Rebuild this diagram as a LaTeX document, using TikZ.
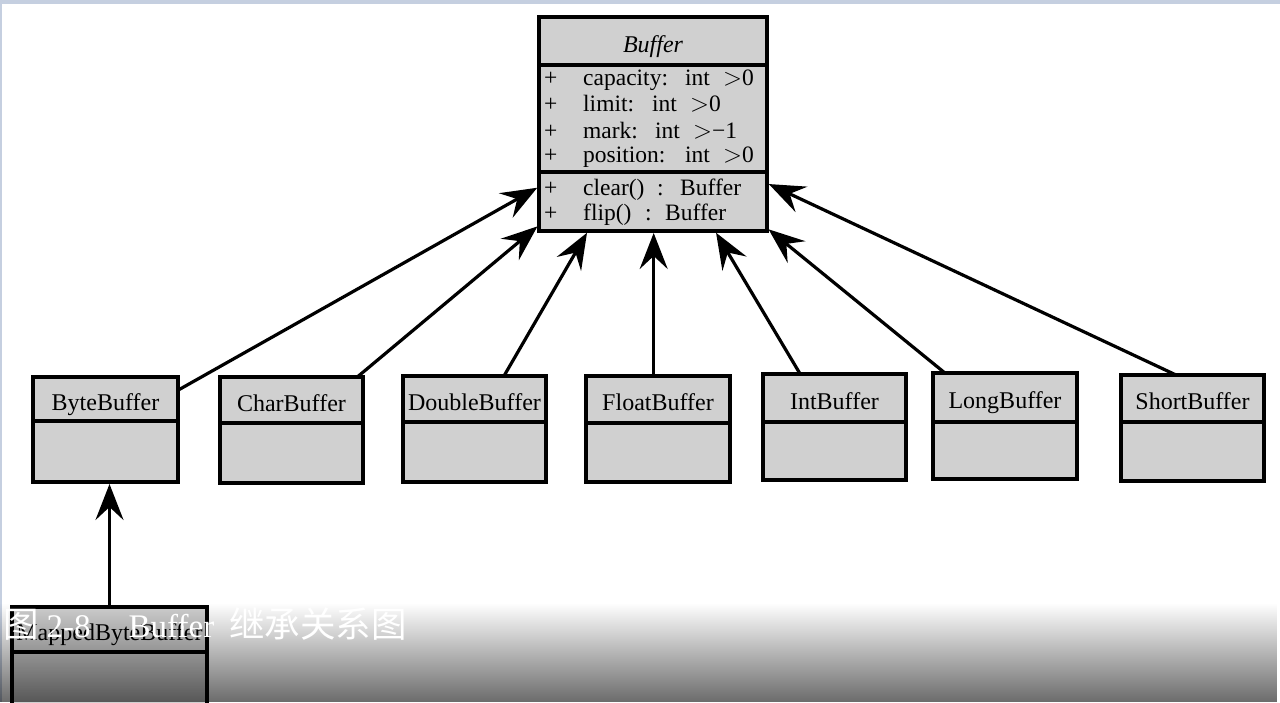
\documentclass[tikz,border=0pt]{standalone}
\usepackage{fontspec}
\setmainfont{Liberation Serif}
\newfontfamily\cjk{Noto Sans CJK SC}
\usetikzlibrary{arrows.meta,fadings,calc}
\definecolor{boxgray}{HTML}{D0D0D0}
\definecolor{frameblue}{HTML}{C5CFE0}
\tikzfading[name=capfade, top color=transparent!100, bottom color=transparent!42]
\newcommand\umlclass[7]{%
  \node[classhead, minimum width=#4pt, minimum height=#5pt] (#1) at (#2,#3) {#7};
  \node[classbody, minimum width=#4pt, minimum height=#6pt] (#1-b) at (#1.south) {};
}
\newcommand\urow[7]{%
  \node[rowtext] (#1-p) at (544,#2) {+};
  \node[rowtext] (#1-a) at (583,#2) {#3};
  \node[rowtext] (#1-b) at (#4,#2) {#5};
  \node[rowtext] (#1-c) at (#6,#2) {#7};
}
\tikzset{
  classhead/.style={draw=black, line width=3.4pt, fill=boxgray, inner sep=0pt, outer sep=0pt,
    anchor=north west, text height=22pt, text depth=0pt,
    font=\fontsize{24}{26}\selectfont},
  classbody/.style={draw=black, line width=3.4pt, fill=boxgray, inner sep=0pt, outer sep=0pt, anchor=north},
  rowtext/.style={anchor=base west, inner sep=0pt, font=\fontsize{23.5}{26}\selectfont},
  inherit/.style={line width=3.2pt, shorten >=2pt, -{Stealth[length=36pt,width=28pt,inset=13pt]}},
  captext/.style={anchor=base west, inner sep=0pt, text=white, font=\fontsize{33}{36}\selectfont}
}
\begin{document}
\begin{tikzpicture}[x=1pt,y=-1pt]
\useasboundingbox (0,0) rectangle (1280,702);
\fill[white] (0,0) rectangle (1280,702);
\fill[frameblue] (0,0) rectangle (1280,4);
\fill[frameblue] (0,0) rectangle (2,702);

% Buffer class
\node[classhead, minimum width=228pt, minimum height=48pt,
      font=\fontsize{24}{26}\selectfont\itshape] (buf) at (539,17) {Buffer};
\node[classbody, minimum width=228pt, minimum height=107pt] (buf-a) at (buf.south) {};
\node[classbody, minimum width=228pt, minimum height=59pt] (buf-m) at (buf-a.south) {};
\urow{r1}{85}{capacity:}{685}{int}{723}{$>$0}
\urow{r2}{111.5}{limit:}{652}{int}{690}{$>$0}
\urow{r3}{138}{mark:}{655}{int}{693}{$>$−1}
\urow{r4}{162.5}{position:}{685}{int}{723}{$>$0}
\urow{r5}{195}{clear()}{657}{:}{680}{Buffer}
\urow{r6}{220}{flip()}{645}{:}{665}{Buffer}

% subclasses
\umlclass{byte}{33}{377}{145}{44}{61}{ByteBuffer}
\umlclass{char}{220}{377}{143}{46}{60}{CharBuffer}
\umlclass{double}{403}{376}{143}{46}{60}{DoubleBuffer}
\umlclass{float}{586}{376}{144}{47}{59}{FloatBuffer}
\umlclass{int}{763}{374}{143}{48}{58}{IntBuffer}
\umlclass{long}{933}{373}{144}{49}{57}{LongBuffer}
\umlclass{short}{1121}{375}{143}{47}{59}{ShortBuffer}
\umlclass{mapped}{12}{607}{195}{45}{80}{MappedByteBuffer}

% inheritance arrows
\draw[inherit] ($(byte.north east)!0.3!(byte.south east)$) -- ($(buf-m.north west)!0.25!(buf-m.south west)$);
\draw[inherit] ($(char.north west)!0.96!(char.north east)$) -- ($(buf-m.north west)!0.9!(buf-m.south west)$);
\draw[inherit] ($(double.north west)!0.706!(double.north east)$) -- ($(buf-m.south west)!0.215!(buf-m.south east)$);
\coordinate (fl-s) at ($(float.north west)!0.47!(float.north east)$);
\draw[inherit] (fl-s) -- (fl-s |- buf-m.south);
\draw[inherit] ($(int.north west)!0.26!(int.north east)$) -- ($(buf-m.south west)!0.772!(buf-m.south east)$);
\draw[inherit] ($(long.north west)!0.083!(long.north east)$) -- ($(buf-m.north east)!0.95!(buf-m.south east)$);
\draw[inherit] ($(short.north west)!0.385!(short.north east)$) -- ($(buf-m.north east)!0.19!(buf-m.south east)$);
\draw[inherit] (mapped.north) -- (mapped.north |- byte-b.south);

% bottom shading and caption
\fill[black, path fading=capfade] (0,603) rectangle (1280,702);
\node[captext] (cap) at (3,637) {{\cjk\fontsize{35.5}{36}\selectfont 图}\hspace{8pt}2-8\hspace{38pt}Buffer\hspace{15pt}{\cjk\fontsize{35.5}{36}\selectfont 继承关系图}};
\end{tikzpicture}
\end{document}
